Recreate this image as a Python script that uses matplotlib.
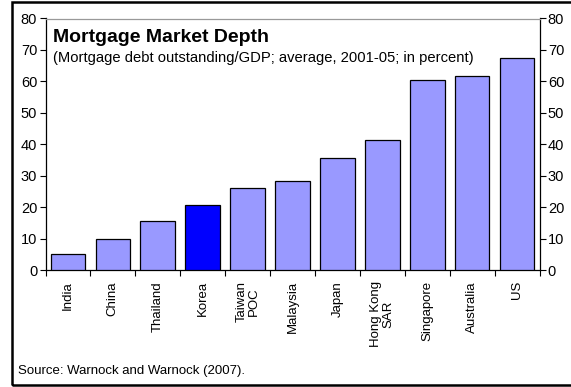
import matplotlib
matplotlib.use("Agg")
import matplotlib.pyplot as plt
from matplotlib.patches import Rectangle
import numpy as np

categories = ["India", "China", "Thailand", "Korea", "Taiwan\nPOC", "Malaysia",
              "Japan", "Hong Kong\nSAR", "Singapore", "Australia", "US"]
values = [5.0, 10.0, 15.5, 20.8, 26.1, 28.2, 35.7, 41.5, 60.3, 61.8, 67.4]
highlight = "Korea"
yticks = [0, 10, 20, 30, 40, 50, 60, 70, 80]

W, H = 571, 387
fig = plt.figure(figsize=(W / 100, H / 100), dpi=100)
plt.rcParams["font.family"] = ["Liberation Sans", "DejaVu Sans"]

# axes placed in pixel terms
left, right, top, bottom = 45.5, 539.5, 18.5, 270.0
ax = fig.add_axes([left / W, 1 - bottom / H, (right - left) / W, (bottom - top) / H])

x = np.arange(len(categories))
colors = ["#0000FF" if c == highlight else "#9999FF" for c in categories]
ax.bar(x, values, width=0.77, color=colors, edgecolor="black", linewidth=0.9, zorder=3)

ax.set_xlim(-0.5, len(categories) - 0.5)
ax.set_ylim(0, 80)
ax.set_yticks(yticks)
ax.tick_params(axis="y", labelsize=10.5, length=4, width=0.8, pad=2, direction="out")

# category ticks sit on the boundaries, labels centred under bars
ax.set_xticks(np.arange(len(categories) + 1) - 0.5)
ax.set_xticklabels([])
ax.set_xticks(x, minor=True)
ax.set_xticklabels(categories, minor=True, rotation=90, fontsize=9.5,
                   linespacing=1.0, va="top", ha="center")
ax.tick_params(axis="x", which="major", length=4, width=0.8, direction="out")
ax.tick_params(axis="x", which="minor", length=0, pad=8)

ax.spines["top"].set_color("#999999")
ax.spines["top"].set_linewidth(0.9)
for s in ["left", "right", "bottom"]:
    ax.spines[s].set_color("black")
    ax.spines[s].set_linewidth(0.9)

ax2 = ax.twinx()
ax2.set_ylim(0, 80)
ax2.set_yticks(yticks)
ax2.tick_params(axis="y", labelsize=10.5, length=4, width=0.8, pad=2, direction="out")
for s in ax2.spines.values():
    s.set_visible(False)

ax.text(0.015, 0.926, "Mortgage Market Depth", transform=ax.transAxes,
        fontsize=14, fontweight="bold", va="center", ha="left")
ax.text(0.015, 0.843, "(Mortgage debt outstanding/GDP; average, 2001-05; in percent)",
        transform=ax.transAxes, fontsize=10.6, va="center", ha="left")

fig.text(18 / W, 1 - 371 / H, "Source: Warnock and Warnock (2007).",
         fontsize=9.5, va="center", ha="left")

# outer frame
frame = Rectangle((11.5 / W, 1 - 385 / H), (W + 10) / W, (385 - 1.5) / H,
                  transform=fig.transFigure, fill=False, edgecolor="black",
                  linewidth=1.8, clip_on=False)
fig.patches.append(frame)

fig.savefig("out.png", dpi=100)
